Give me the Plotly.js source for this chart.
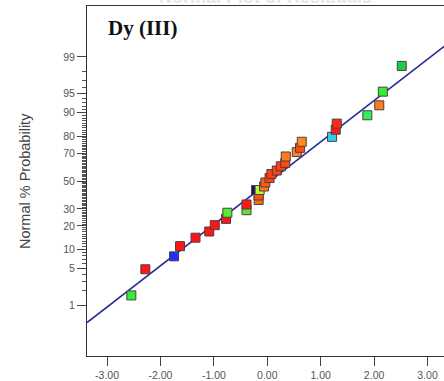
<!DOCTYPE html>
<html>
<head>
<meta charset="utf-8">
<script src="https://cdn.plot.ly/plotly-3.0.1.min.js"></script>
<style>
  html, body { margin: 0; padding: 0; overflow: hidden; background: #fff; }
  #chart { width: 460px; height: 381px; }
</style>
</head>
<body>
<div id="chart"></div>
<script>
// Externally studentized residuals, sorted, with their normal % probability
const residuals = [-2.545, -2.283, -1.745, -1.633, -1.343, -1.086, -0.983, -0.772, -0.747, -0.388,
                   -0.388, -0.161, -0.163, -0.210, -0.144, -0.060, -0.036, 0.043, 0.077, 0.178,
                   0.253, 0.337, 0.346, 0.552, 0.614, 0.646, 1.213, 1.282, 1.301, 1.874,
                   2.097, 2.163, 2.518];
const probPct = [1.6, 4.9, 7.9, 11.1, 14.4, 17.2, 20.4, 23.9, 27.6, 29.2,
                 33.0, 36.1, 39.3, 43.3, 43.3, 45.9, 48.9, 52.2, 55.2, 57.8,
                 60.9, 63.3, 67.7, 70.6, 73.3, 76.9, 79.6, 83.2, 85.9, 89.1,
                 92.2, 95.3, 98.45];
// Point colour follows the run's response value (blue = low ... red = high)
const pointColors = ['#33ee33', '#ff1515', '#2030ff', '#ff1515', '#ff1515', '#ff1515', '#ff1515', '#ff1515', '#55ee33', '#66dd33',
                     '#ff1a10', '#ff6a10', '#ff5010', '#101080', '#b0ff30', '#ff7a18', '#ff5a10', '#ff4010', '#ff4010', '#ff4010',
                     '#ff4010', '#ff4a10', '#ff7a1a', '#ff8020', '#ff4a10', '#ff8a20', '#33ccee', '#ff1a1a', '#ff2a15', '#33ee55',
                     '#ff7a1a', '#33ee33', '#22cc44'];

const probTicks = [1, 5, 10, 20, 30, 50, 70, 80, 90, 95, 99];
const xTicks = [-3, -2, -1, 0, 1, 2, 3];

// Reference line of the normal plot: z = intercept + slope * residual
const fitIntercept = -0.04;
const fitSlope = 0.774;

const xRange = [-3.375, 3.365];
const zRange = [-3.28, 3.28];

// Inverse standard normal CDF (Acklam's rational approximation)
function probit(p) {
  const a = [-3.969683028665376e+01, 2.209460984245205e+02, -2.759285104469687e+02, 1.383577518672690e+02, -3.066479806614716e+01, 2.506628277459239e+00];
  const b = [-5.447609879822406e+01, 1.615858368580409e+02, -1.556989798598866e+02, 6.680131188771972e+01, -1.328068155288572e+01];
  const c = [-7.784894002430293e-03, -3.223964580411365e-01, -2.400758277161838e+00, -2.549732539343734e+00, 4.374664141464968e+00, 2.938163982698783e+00];
  const d = [7.784695709041462e-03, 3.224671290700398e-01, 2.445134137142996e+00, 3.754408661907416e+00];
  const pl = 0.02425, ph = 1 - pl;
  let q, r;
  if (p < pl) {
    q = Math.sqrt(-2 * Math.log(p));
    return (((((c[0]*q+c[1])*q+c[2])*q+c[3])*q+c[4])*q+c[5]) / ((((d[0]*q+d[1])*q+d[2])*q+d[3])*q+1);
  }
  if (p <= ph) {
    q = p - 0.5; r = q * q;
    return (((((a[0]*r+a[1])*r+a[2])*r+a[3])*r+a[4])*r+a[5])*q / (((((b[0]*r+b[1])*r+b[2])*r+b[3])*r+b[4])*r+1);
  }
  q = Math.sqrt(-2 * Math.log(1 - p));
  return -(((((c[0]*q+c[1])*q+c[2])*q+c[3])*q+c[4])*q+c[5]) / ((((d[0]*q+d[1])*q+d[2])*q+d[3])*q+1);
}
const toZ = pct => probit(pct / 100);

// Minor ticks at every whole percent that has no label
const minorPct = [];
for (let k = 1; k <= 99; k++) if (!probTicks.includes(k)) minorPct.push(k);

const font = 'Liberation Sans, Arial, sans-serif';

const lineTrace = {
  x: xRange,
  y: xRange.map(v => fitIntercept + fitSlope * v),
  mode: 'lines',
  line: { color: '#2b2b98', width: 1.6 },
  hoverinfo: 'skip',
  showlegend: false
};

const pointTrace = {
  x: residuals,
  y: probPct.map(toZ),
  mode: 'markers',
  marker: {
    symbol: 'square',
    size: 9,
    color: pointColors,
    line: { color: '#4a4040', width: 1 }
  },
  text: probPct.map(v => v + '%'),
  hovertemplate: '%{x:.2f}, %{text}<extra></extra>',
  showlegend: false
};

const layout = {
  width: 460,
  height: 381,
  margin: { l: 87, r: 13, t: 6, b: 25 },
  paper_bgcolor: '#fff',
  plot_bgcolor: '#fff',
  font: { family: font, size: 10, color: '#555' },
  xaxis: {
    range: xRange,
    tickmode: 'array',
    tickvals: xTicks,
    ticktext: xTicks.map(v => v.toFixed(2)),
    ticks: 'outside',
    ticklen: 9,
    tickwidth: 1,
    tickcolor: '#444',
    showline: true,
    linecolor: '#333',
    linewidth: 1,
    mirror: true,
    showgrid: false,
    zeroline: false,
    tickfont: { family: font, size: 10.5, color: '#555' }
  },
  yaxis: {
    range: zRange,
    tickmode: 'array',
    tickvals: probTicks.map(toZ),
    ticktext: probTicks.map(String),
    ticks: 'outside',
    ticklen: 9,
    tickwidth: 1,
    tickcolor: '#444',
    minor: {
      tickmode: 'array',
      tickvals: minorPct.map(toZ),
      ticks: 'outside',
      ticklen: 4,
      tickwidth: 1,
      tickcolor: '#555',
      showgrid: false
    },
    showline: true,
    linecolor: '#333',
    linewidth: 1,
    mirror: true,
    showgrid: false,
    zeroline: false,
    tickfont: { family: font, size: 10.5, color: '#555' }
  },
  annotations: [
    {
      text: 'Normal % Probability',
      xref: 'paper', yref: 'paper',
      x: 0, y: 0.5,
      xanchor: 'center', yanchor: 'middle',
      xshift: -62,
      textangle: -90,
      showarrow: false,
      font: { family: font, size: 14.5, color: '#444' }
    },
    {
      text: '<b>Dy (III)</b>',
      xref: 'paper', yref: 'paper',
      x: 0, y: 1,
      xanchor: 'left', yanchor: 'middle',
      xshift: 19, yshift: -22,
      showarrow: false,
      font: { family: 'Liberation Serif, Times New Roman, serif', size: 21, color: '#111' }
    },
    {
      text: '<b>Normal Plot of Residuals</b>',
      xref: 'paper', yref: 'paper',
      x: 0, y: 1,
      xanchor: 'center', yanchor: 'bottom',
      xshift: 178, yshift: -3,
      showarrow: false,
      font: { family: font, size: 18, color: '#ebe6e0' }
    }
  ]
};

Plotly.newPlot('chart', [lineTrace, pointTrace], layout, { staticPlot: true, displayModeBar: false });
</script>
</body>
</html>
